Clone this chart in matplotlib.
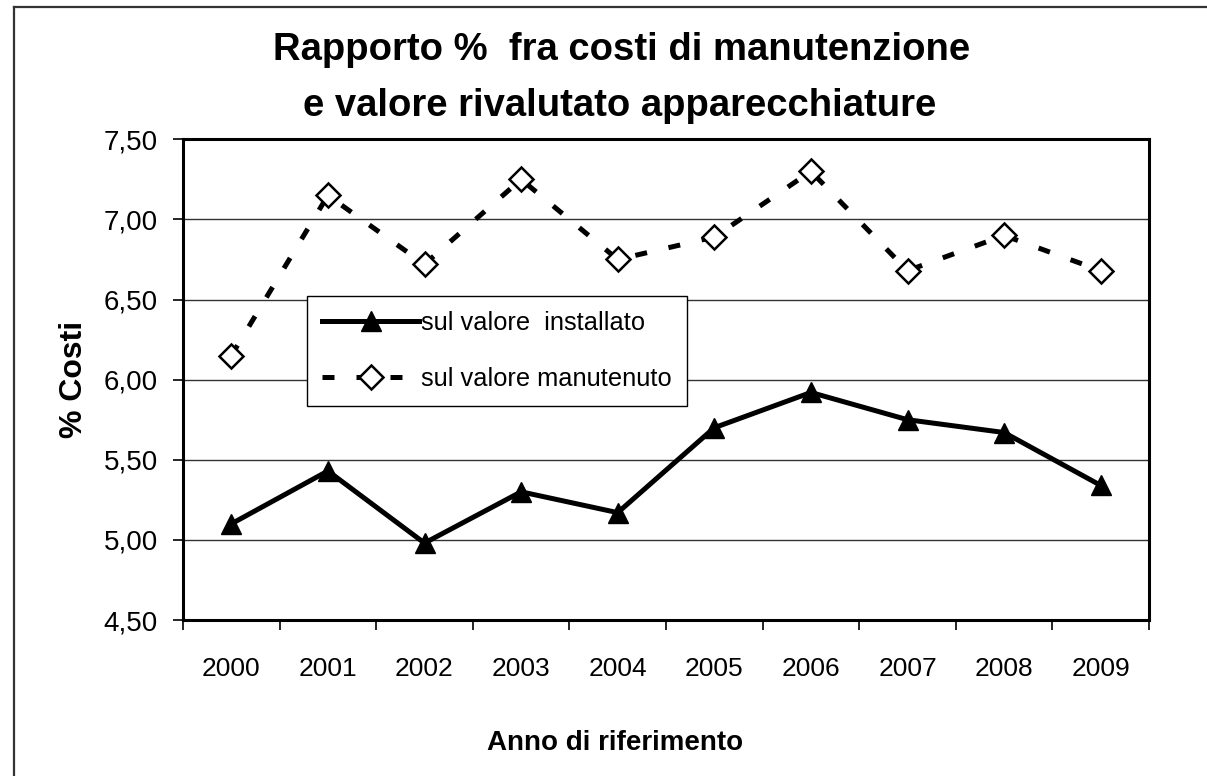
import numpy as np
import matplotlib
matplotlib.use("Agg")
import matplotlib.pyplot as plt
from matplotlib.lines import Line2D

# data
anni = ["2000", "2001", "2002", "2003", "2004", "2005", "2006", "2007", "2008", "2009"]
installato = [5.10, 5.43, 4.98, 5.30, 5.17, 5.70, 5.92, 5.75, 5.67, 5.34]
manutenuto = [6.15, 7.15, 6.72, 7.25, 6.75, 6.89, 7.30, 6.68, 6.90, 6.68]
y_ticks = [4.50, 5.00, 5.50, 6.00, 6.50, 7.00, 7.50]

plt.rcParams["font.family"] = ["Liberation Sans", "DejaVu Sans"]

fig = plt.figure(figsize=(12.07, 7.76), dpi=100)
ax = fig.add_axes([183 / 1207, 1 - 620 / 776, (1149 - 183) / 1207, (620 - 139.3) / 776])

x = np.arange(len(anni))

# horizontal grid
for v in y_ticks[1:-1]:
    ax.axhline(v, color="#333333", lw=1.0, zorder=1)

ax.plot(x, installato, color="black", lw=3.6, marker="^", markersize=15,
        markerfacecolor="black", markeredgecolor="black", zorder=3,
        label="sul valore  installato")
ax.plot(x, manutenuto, color="black", lw=3.6, dashes=(2.4, 4.4), marker="D",
        markersize=12, markerfacecolor="white", markeredgecolor="black",
        markeredgewidth=1.8, zorder=3, label="sul valore manutenuto")

ax.set_xlim(-0.5, len(anni) - 0.5)
ax.set_ylim(4.5, 7.5)

# category boundaries get the tick marks, labels sit in the middle
ax.set_xticks(np.arange(-0.5, len(anni), 1))
ax.set_xticklabels([])
ax.set_xticks(x, minor=True)
ax.set_xticklabels(anni, minor=True, fontsize=19)
ax.tick_params(axis="x", which="major", direction="out", length=7, width=1.2)
ax.tick_params(axis="x", which="minor", length=0, pad=27)

ax.set_yticks(y_ticks)
ax.set_yticklabels([f"{v:.2f}".replace(".", ",") for v in y_ticks], fontsize=20)
ax.tick_params(axis="y", direction="out", length=7, width=1.2, pad=11)

for s in ax.spines.values():
    s.set_linewidth(2.2)
    s.set_color("black")

ax.set_ylabel("% Costi", fontsize=23, fontweight="bold")
ax.yaxis.set_label_coords(-0.097, 0.5)
ax.set_xlabel("Anno di riferimento", fontsize=20, fontweight="bold")
ax.xaxis.set_label_coords(0.447, -0.228)

leg = ax.legend(loc="upper left", bbox_to_anchor=((307 - 183) / 966, (620 - 296) / 480.7),
                fontsize=18.3, frameon=True, fancybox=False, framealpha=1,
                edgecolor="black", handlelength=3.8, handletextpad=0.1,
                labelspacing=1.25, borderpad=0.6, borderaxespad=0)
leg.get_frame().set_linewidth(1.0)

fig.text(0.515, 1 - 60 / 776, "Rapporto %  fra costi di manutenzione", ha="center",
         va="baseline", fontsize=27.5, fontweight="bold")
fig.text(0.513, 1 - 116 / 776, "e valore rivalutato apparecchiature", ha="center",
         va="baseline", fontsize=27.5, fontweight="bold")

# outer frame of the chart area (only left and top edges visible)
fig.add_artist(Line2D([14 / 1207, 14 / 1207], [0, 1 - 7 / 776], color="#333333", lw=1.6))
fig.add_artist(Line2D([14 / 1207, 1], [1 - 7 / 776, 1 - 7 / 776], color="#333333", lw=1.6))

fig.savefig("out.png", dpi=100, facecolor="white")
